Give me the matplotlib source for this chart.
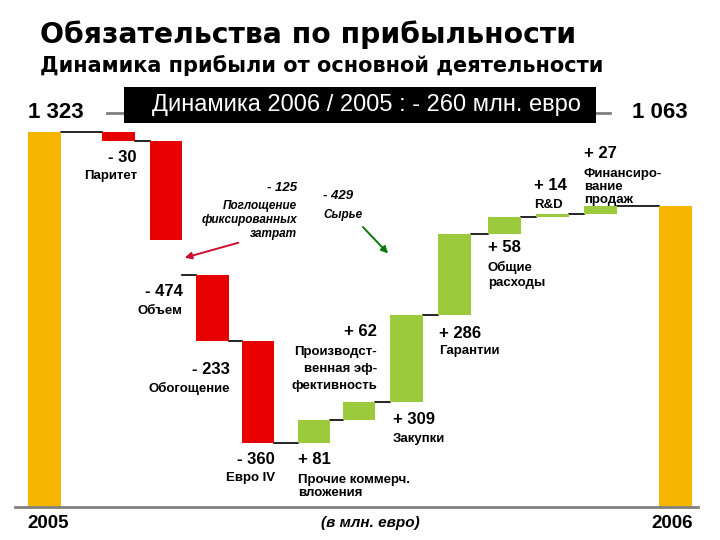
import matplotlib
matplotlib.use('Agg')
import matplotlib.pyplot as plt
from matplotlib.patches import Rectangle, FancyArrowPatch

plt.rcParams['font.family'] = ['Liberation Sans', 'DejaVu Sans']

# --- data -------------------------------------------------------------
title = 'Обязательства по прибыльности'
subtitle = 'Динамика прибыли от основной деятельности'
banner = 'Динамика 2006 / 2005 : - 260 млн. евро'
unit_note = '(в млн. евро)'

start_year, end_year = '2005', '2006'
start_value = 1323
end_value = 1063

step_names = ['Паритет', 'Объем', 'Обогощение', 'Евро IV',
              'Прочие коммерч.\nвложения',
              'Производст-\nвенная эф-\nфективность',
              'Закупки', 'Гарантии', 'Общие\nрасходы', 'R&D',
              'Финансиро-\nвание\nпродаж']
step_values = [-30, -474, -233, -360, 81, 62, 309, 286, 58, 14, 27]

# part of the volume step, shown as a gap after the bar
fixed_cost_name = 'Поглощение\nфиксированных\nзатрат'
fixed_cost_value = -125
raw_mat_name = 'Сырье'
raw_mat_value = -429

# --- layout (pixels of a 720x540 canvas) ------------------------------
start_x, end_x = 44.3, 675.3
step_x = [118.3, 165.8, 212.5, 258, 313.8, 359, 406.7, 454.6, 504.6, 552.3, 600.5]
bar_w = 32.5
base_px, top_px = 506.7, 132.3          # where 0 and the start value sit
# (x, ha, y of number, y of first name line, line gap)
label_pos = [(137, 'right', 158, 176, 14),
             (182.5, 'right', 291, 311, 14),
             (230, 'right', 369, 388, 14),
             (275, 'right', 459, 478, 14),
             (297.7, 'left', 460, 480, 13.5),
             (377, 'right', 332, 352, 17),
             (393, 'left', 420, 439, 14),
             (439, 'left', 333, 351, 14),
             (488, 'left', 248, 267, 16),
             (534, 'left', 186, 205, 14),
             (584, 'left', 154, 173.5, 13.5)]

YELLOW = '#F7B500'
RED = '#E60000'
GREEN = '#9BCB3C'
GRAY = '#808080'

def fmt_total(v):
    return f'{v:,}'.replace(',', ' ')

def fmt_step(v):
    return f'{"+" if v > 0 else "-"} {abs(v)}'

fig = plt.figure(figsize=(7.2, 5.4), dpi=100)

# value axes: y in million euro, x in canvas pixels
scale = (base_px - top_px) / start_value
ax = fig.add_axes([0, 0, 1, 1])
ax.set_xlim(0, 720)
ax.set_ylim(-(540 - base_px) / scale, base_px / scale)
ax.axis('off')

# overlay axes for text in canvas pixels
tx = fig.add_axes([0, 0, 1, 1], zorder=3)
tx.set_xlim(0, 720)
tx.set_ylim(540, 0)
tx.axis('off')
tx.patch.set_alpha(0)

# start / end totals
ax.bar([start_x, end_x], [start_value, end_value], width=bar_w, color=YELLOW, zorder=2)

# waterfall steps
level = start_value
prev_right = start_x + bar_w / 2
for i, v in enumerate(step_values):
    x = step_x[i]
    drawn = v - fixed_cost_value if i == 1 else v
    bottom = level + drawn if drawn < 0 else level
    ax.bar(x, abs(drawn), bottom=bottom, width=bar_w,
           color=RED if v < 0 else GREEN, zorder=2)
    ax.plot([prev_right, x - bar_w / 2], [level, level], color='black', lw=1.2, zorder=1)
    level += v
    prev_right = x + bar_w / 2
ax.plot([prev_right, end_x - bar_w / 2], [level, level], color='black', lw=1.2, zorder=1)

# baseline
ax.plot([15, 698], [0, 0], color=GRAY, lw=2, zorder=3)

# step labels
for v, name, (lx, ha, yn, yl, gap) in zip(step_values, step_names, label_pos):
    tx.text(lx, yn, fmt_step(v), ha=ha, va='center', fontsize=12, fontweight='bold')
    for k, line in enumerate(name.split('\n')):
        tx.text(lx, yl + k * gap, line, ha=ha, va='center', fontsize=9.5, fontweight='bold')

# notes with arrows
tx.text(297, 188, fmt_step(fixed_cost_value), ha='right', va='center',
        fontsize=9.5, fontweight='bold', style='italic')
for k, line in enumerate(fixed_cost_name.split('\n')):
    tx.text(297, 206.5 + k * 13.5, line, ha='right', va='center',
            fontsize=8.5, fontweight='bold', style='italic')
tx.add_patch(FancyArrowPatch((241, 242), (182, 258.5), arrowstyle='-|>',
                             mutation_scale=10, color='#C8102E', lw=1.4))

tx.text(323, 196, fmt_step(raw_mat_value), ha='left', va='center',
        fontsize=9.5, fontweight='bold', style='italic')
tx.text(323, 215, raw_mat_name, ha='left', va='center',
        fontsize=8.5, fontweight='bold', style='italic')
tx.add_patch(FancyArrowPatch((361, 225), (390, 255.5), arrowstyle='-|>',
                             mutation_scale=10, color='#0B7A0B', lw=1.4))

# header
tx.text(40, 35, title, ha='left', va='center', fontsize=20.3, fontweight='bold',
        family='DejaVu Sans')
tx.text(40, 66, subtitle, ha='left', va='center', fontsize=15, fontweight='bold',
        family='DejaVu Sans')

tx.plot([107, 610], [113, 113], color=GRAY, lw=2, zorder=1)
tx.add_patch(Rectangle((124, 87), 472, 35.7, facecolor='black', edgecolor='none', zorder=2))
tx.text(366, 104.5, banner, ha='center', va='center', fontsize=17, color='white', zorder=3)

tx.text(28, 112, fmt_total(start_value), ha='left', va='center', fontsize=16, fontweight='bold')
tx.text(688, 113, fmt_total(end_value), ha='right', va='center', fontsize=16, fontweight='bold')

# footer
tx.text(27, 524, start_year, ha='left', va='center', fontsize=13.5, fontweight='bold')
tx.text(693, 524, end_year, ha='right', va='center', fontsize=13.5, fontweight='bold')
tx.text(370, 523, unit_note, ha='center', va='center', fontsize=11, fontweight='bold', style='italic')

fig.savefig('out.png', dpi=100)
